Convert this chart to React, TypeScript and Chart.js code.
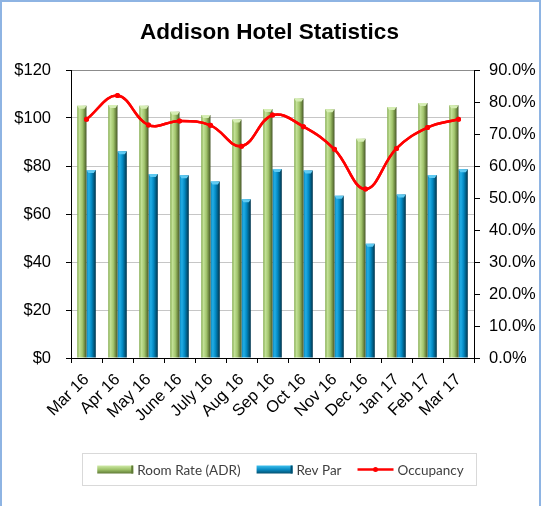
import React, { useEffect, useRef } from 'react';
import { Chart, registerables } from 'chart.js';

Chart.register(...registerables);

const months = ['Mar 16', 'Apr 16', 'May 16', 'June 16', 'July 16', 'Aug 16', 'Sep 16', 'Oct 16', 'Nov 16', 'Dec 16', 'Jan 17', 'Feb 17', 'Mar 17'];
const roomRate = [105.1, 105.4, 105.1, 102.6, 101.3, 99.4, 103.7, 108.1, 103.6, 91.4, 104.6, 106.2, 105.3];
const revPar = [78.3, 86.1, 76.7, 76.1, 73.5, 66.1, 78.7, 78.1, 67.6, 47.6, 68.1, 76.2, 78.6];
const occupancy = [74.6, 82.0, 72.8, 74.1, 72.7, 66.2, 75.9, 72.3, 65.2, 52.8, 65.5, 72.0, 74.6];

const seriesNames = ['Room Rate (ADR)', 'Rev Par', 'Occupancy'];
const chartTitle = 'Addison Hotel Statistics';

const FONT = "'Liberation Sans', Arial, sans-serif";
const CAT_PCT = 0.6;

const greenStops: [number, string][] = [
  [0, '#86ad52'], [0.25, '#c2e096'], [0.55, '#a3c66e'], [0.8, '#6f8a42'], [1, '#47572a'],
];
const blueStops: [number, string][] = [
  [0, '#0a86bb'], [0.25, '#22aee6'], [0.55, '#0389c2'], [0.8, '#015a80'], [1, '#00324a'],
];

function barGradient(stops: [number, string][], side: number) {
  return (ctx: any) => {
    const chart = ctx.chart;
    const xs = chart.scales && chart.scales.x;
    if (!xs || ctx.type !== 'data' || !xs.width) return stops[2][1];
    const catW = xs.width / months.length;
    const w = (catW * CAT_PCT) / 2;
    const c = xs.getPixelForValue(ctx.dataIndex);
    const x0 = side === 0 ? c - w : c;
    const g = chart.ctx.createLinearGradient(x0, 0, x0 + w, 0);
    stops.forEach(([o, col]) => g.addColorStop(o, col));
    return g;
  };
}

const capPlugin = {
  id: 'barCaps',
  afterDatasetsDraw(chart: any) {
    const ctx = chart.ctx;
    const caps = ['#d6eeb4', '#5fcaf2'];
    [0, 1].forEach((di) => {
      const meta = chart.getDatasetMeta(di);
      meta.data.forEach((bar: any) => {
        const half = bar.width / 2;
        ctx.save();
        ctx.fillStyle = caps[di];
        ctx.beginPath();
        ctx.moveTo(bar.x - half, bar.y);
        ctx.lineTo(bar.x + half, bar.y);
        ctx.lineTo(bar.x + half - 2, bar.y + 3);
        ctx.lineTo(bar.x - half + 2, bar.y + 3);
        ctx.closePath();
        ctx.fill();
        ctx.restore();
      });
    });
    const lineMeta = chart.getDatasetMeta(2);
    if (lineMeta && lineMeta.controller) lineMeta.controller.draw();
  },
};

const legendPlugin = {
  id: 'boxLegend',
  afterDraw(chart: any) {
    const ctx = chart.ctx;
    const box = { x: 82.5, y: 453.5, w: 394, h: 32 };
    ctx.save();
    ctx.strokeStyle = '#d9d9d9';
    ctx.lineWidth = 1;
    ctx.strokeRect(box.x, box.y, box.w, box.h);
    ctx.font = `13.5px Lato, 'Open Sans', sans-serif`;
    ctx.textBaseline = 'middle';
    const sw = 36;
    const gapT = 4;
    const gapItem = 16;
    const widths = seriesNames.map((n) => ctx.measureText(n).width);
    const total = widths.reduce((a, b) => a + b, 0) + 3 * (sw + gapT) + 2 * gapItem;
    let x = box.x + box.w / 2 - total / 2 + 1;
    const cy = box.y + box.h / 2;
    seriesNames.forEach((name, i) => {
      if (i < 2) {
        const stops = i === 0 ? ['#cfeaa8', '#9fc36a', '#5f7a35'] : ['#3ec0ee', '#0a8cc4', '#02506f'];
        const g = ctx.createLinearGradient(0, cy - 4, 0, cy + 4);
        g.addColorStop(0, stops[0]);
        g.addColorStop(0.5, stops[1]);
        g.addColorStop(1, stops[2]);
        ctx.fillStyle = g;
        ctx.fillRect(x, cy - 4, sw, 8);
        ctx.fillStyle = stops[2];
        ctx.fillRect(x + sw - 2, cy - 4, 2, 8);
      } else {
        ctx.strokeStyle = '#ff0000';
        ctx.lineWidth = 2.5;
        ctx.beginPath();
        ctx.moveTo(x, cy);
        ctx.lineTo(x + sw, cy);
        ctx.stroke();
        ctx.fillStyle = '#ff0000';
        ctx.beginPath();
        ctx.arc(x + sw / 2, cy, 2.5, 0, Math.PI * 2);
        ctx.fill();
      }
      x += sw + gapT;
      ctx.fillStyle = '#404040';
      ctx.textAlign = 'left';
      ctx.fillText(name, x, cy + 1);
      x += widths[i] + gapItem;
    });
    ctx.restore();
  },
};

export default function App() {
  const ref = useRef<HTMLCanvasElement | null>(null);

  useEffect(() => {
    if (!ref.current) return;
    const tickFont = { family: FONT, size: 16.5 };
    const chart = new Chart(ref.current, {
      type: 'bar',
      data: {
        labels: months,
        datasets: [
          {
            type: 'bar',
            label: seriesNames[0],
            data: roomRate,
            backgroundColor: barGradient(greenStops, 0),
            yAxisID: 'y',
            order: 1,
            categoryPercentage: CAT_PCT,
            barPercentage: 1,
          },
          {
            type: 'bar',
            label: seriesNames[1],
            data: revPar,
            backgroundColor: barGradient(blueStops, 1),
            yAxisID: 'y',
            order: 1,
            categoryPercentage: CAT_PCT,
            barPercentage: 1,
          },
          {
            type: 'line',
            label: seriesNames[2],
            data: occupancy,
            borderColor: '#ff0000',
            backgroundColor: '#ff0000',
            borderWidth: 2.5,
            pointRadius: 2.5,
            pointBorderWidth: 0,
            tension: 0.4,
            yAxisID: 'y1',
            order: 0,
          } as any,
        ],
      },
      options: {
        responsive: false,
        animation: false,
        events: [],
        layout: { padding: { left: 0, right: 8, top: 0, bottom: 53 } },
        plugins: {
          legend: { display: false },
          tooltip: { enabled: false },
          title: {
            display: true,
            text: chartTitle,
            color: '#000',
            font: { family: FONT, size: 22.5, weight: 'bold' },
            padding: { top: 19, bottom: 24 },
          },
        },
        scales: {
          x: {
            offset: true,
            grid: { offset: true, drawOnChartArea: false, tickLength: 5, tickColor: '#000', lineWidth: 1 },
            border: { color: '#000', width: 1 },
            ticks: { autoSkip: false, maxRotation: 45, minRotation: 45, color: '#000', font: tickFont, padding: 7 },
            afterFit: (s: any) => { s.height = 95; },
          },
          y: {
            position: 'left',
            min: 0,
            max: 120,
            ticks: { stepSize: 20, callback: (v: any) => '$' + v, color: '#000', font: tickFont, padding: 15 },
            grid: {
              color: (c: any) => (c.tick && c.tick.value === 120 ? '#8c8c8c' : '#c6c6c6'),
              tickColor: '#000',
              tickLength: 5,
              lineWidth: 1,
            },
            border: { color: '#000', width: 1 },
            afterFit: (s: any) => { s.width = 71; },
          },
          y1: {
            position: 'right',
            min: 0,
            max: 90,
            ticks: { stepSize: 10, callback: (v: any) => Number(v).toFixed(1) + '%', color: '#000', font: tickFont, padding: 9 },
            grid: { drawOnChartArea: false, tickColor: '#000', tickLength: 6 },
            border: { color: '#000', width: 1 },
            afterFit: (s: any) => { s.width = 65; },
          },
        },
      },
      plugins: [capPlugin, legendPlugin],
    });
    return () => chart.destroy();
  }, []);

  return (
    <div style={{ position: 'fixed', left: 0, top: 0, width: 547, height: 506, background: '#fff', overflow: 'hidden' }}>
      <canvas ref={ref} width={547} height={506} style={{ position: 'absolute', left: 0, top: 0, width: 547, height: 506 }} />
      <div
        style={{
          position: 'absolute',
          left: 0,
          top: 0,
          width: 537,
          height: 530,
          border: '2.5px solid #8eb4e3',
          pointerEvents: 'none',
        }}
      />
    </div>
  );
}
